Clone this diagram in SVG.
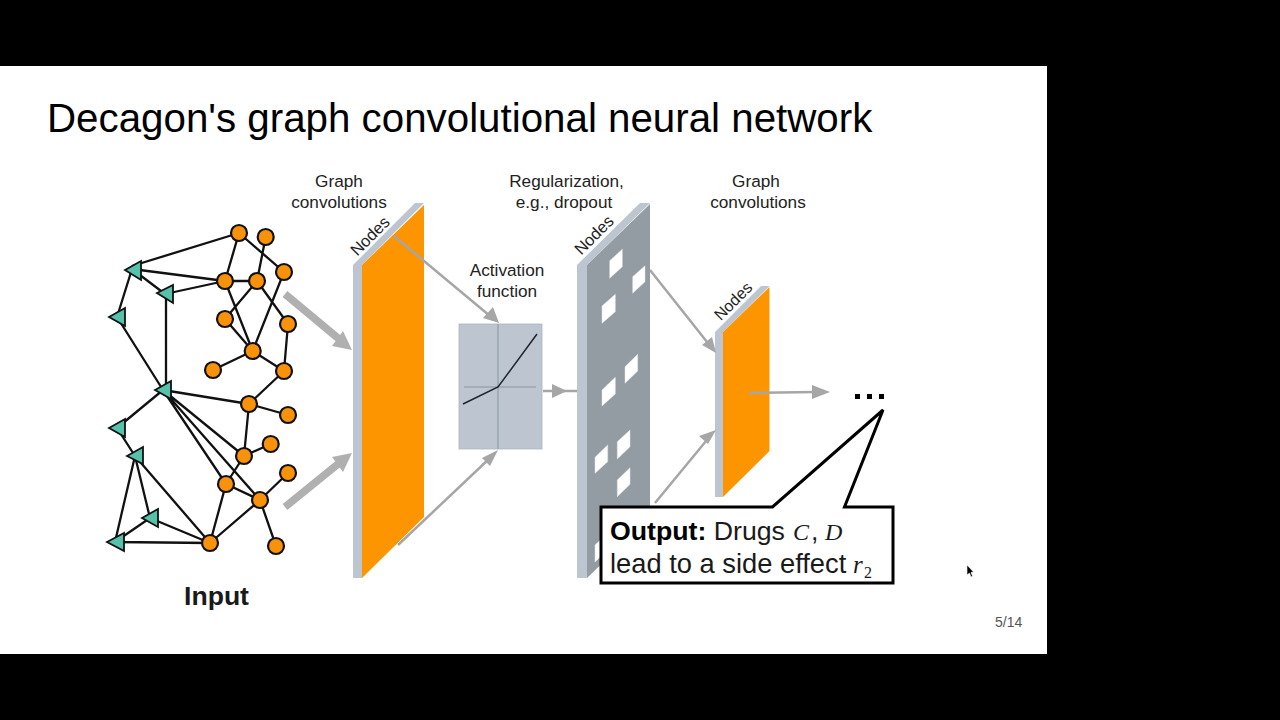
<svg xmlns="http://www.w3.org/2000/svg" width="1280" height="720" viewBox="0 0 1280 720">
<style>
text{font-family:"Liberation Sans",Arial,sans-serif;fill:#1a1a1a}
.lab{font-size:17.2px;text-anchor:middle;fill:#222}
.nodes{font-size:16.5px;text-anchor:middle;fill:#222}
.e{stroke:#111;stroke-width:2.300;fill:none}
.o{fill:#f7920a;stroke:#111;stroke-width:2.200}
.t{fill:#56c2aa;stroke:#111;stroke-width:1.800}
.a{stroke:#a6a6a6;fill:none;stroke-width:2.500}
.h{fill:#a6a6a6}
.s{fill:#bcc5d0;stroke:#adb5bd;stroke-width:.8}
.w{fill:#fff;stroke:#e4e6e8;stroke-width:.5}
.m{font-family:"Liberation Serif","DejaVu Serif",serif;font-style:italic}
</style>
<rect width="1280" height="720" fill="#000"/>
<rect x="0" y="66" width="1047" height="588" fill="#fff"/>
<text id="title" x="47" y="132" font-size="40.300" style="fill:#000">Decagon's graph convolutional neural network</text>
<g id="edges">
<path class="e" d="M239 233L132 266M239 233L225 281M239 233L284 272M265.700 237L257 281M225 281H257M225 281L132 269M225 281L165 294M132 269L165 294M132 269L117 317M117 317L163 390M166 294V390M225 281L252.700 351M257 281L225 319M257 281L288 324M225 319L252.700 351M284 272L252.700 351M288 324L284 371M252.700 351L213 370M252.700 351L284 371M284 371L249 404M163 390L249 404M249 404L288 415M249 404L244 456M244 456L270.700 444M244 456L226 484M163 390L244 456M163 390L226 484M163 390L260 500M226 484L260 500M226 484L210 543M260 500L210 543M260 500L288 473M260 500L276 546M163 390L117 428M117 428L135 456M135 456L115 542M135 456L150 518M135 456L210 543M150 518L115 542M150 518L210 543M115 542L210 543"/>
</g>
<g id="nodes-orange">
<circle class="o" cx="239" cy="233" r="8"/><circle class="o" cx="265.700" cy="237" r="8"/><circle class="o" cx="284" cy="272" r="8"/><circle class="o" cx="225" cy="281" r="8"/><circle class="o" cx="257" cy="281" r="8"/><circle class="o" cx="225" cy="319" r="8"/><circle class="o" cx="288" cy="324" r="8"/><circle class="o" cx="252.700" cy="351" r="8"/><circle class="o" cx="213" cy="370" r="8"/><circle class="o" cx="284" cy="371" r="8"/><circle class="o" cx="249" cy="404" r="8"/><circle class="o" cx="288" cy="415" r="8"/><circle class="o" cx="270.700" cy="444" r="8"/><circle class="o" cx="244" cy="456" r="8"/><circle class="o" cx="288" cy="473" r="8"/><circle class="o" cx="226" cy="484" r="8"/><circle class="o" cx="260" cy="500" r="8"/><circle class="o" cx="210" cy="543" r="8"/><circle class="o" cx="276" cy="546" r="8"/>
</g>
<g id="nodes-teal">
<polygon class="t" points="125,270 141,261 141,280"/><polygon class="t" points="157,293 173,285 173,303"/><polygon class="t" points="109,317 125,308 125,326"/><polygon class="t" points="155,390 171,381 171,399"/><polygon class="t" points="109,428 125,419 125,437"/><polygon class="t" points="127,456 143,447 143,464"/><polygon class="t" points="142,518 158,509 158,527"/><polygon class="t" points="107,542 124,533 124,551"/>
</g>
<text id="input" x="216.500" y="605" font-size="26.600" font-weight="bold" text-anchor="middle">Input</text>
<g id="plate1">
<rect x="353" y="265" width="9" height="313" fill="#bcc5d0"/>
<polygon points="353,265 415,203 424,203 362,265" fill="#bcc5d0"/>
<polygon points="362,265 424,205 424,517 362,578" fill="#fd9500"/>
<text class="nodes" transform="translate(374,240) rotate(-45)">Nodes</text>
</g>
<text class="lab" x="339" y="187">Graph</text><text class="lab" x="339" y="208">convolutions</text>
<g id="activation">
<rect x="459" y="324" width="83" height="125" class="s"/>
<path d="M498 324V449M464 387H536" stroke="#8a949e" stroke-width="1" fill="none"/>
<path d="M463 404L498 387L537 334" stroke="#1c2430" stroke-width="1.500" fill="none"/>
<text class="lab" x="507" y="276">Activation</text><text class="lab" x="507" y="297">function</text>
</g>
<g id="plate2">
<rect x="577" y="265" width="10" height="313" fill="#bcc5d0"/>
<polygon points="577,265 640,203 650,203 587,265" fill="#bcc5d0"/>
<polygon points="587,265 650,204 650,517 587,578" fill="#939ba3"/>
<polygon class="w" points="609.700,260.700 622.300,249.300 622.300,266.700 609.700,278.300"/>
<polygon class="w" points="632.700,276.700 645,265.700 645,281.700 632.700,293.300"/>
<polygon class="w" points="602,306 615.300,294.300 615.300,311.700 602,323.300"/>
<polygon class="w" points="625,366.700 637.700,354.300 637.700,371 625,383.300"/>
<polygon class="w" points="602,390 615.300,377.300 615.300,394 602,406"/>
<polygon class="w" points="595,457.300 607.700,445 607.700,461.700 595,473.300"/>
<polygon class="w" points="617.300,441.700 630,430 630,446.700 617.300,459"/>
<polygon class="w" points="617.300,480 630,467.700 630,484.300 617.300,496.700"/>
<polygon class="w" points="595,545 608,533 608,550 595,562"/>
<text class="nodes" transform="translate(598,239) rotate(-45)">Nodes</text>
</g>
<text class="lab" x="566.500" y="187">Regularization,</text><text class="lab" x="564" y="208">e.g., dropout</text>
<g id="plate3">
<rect x="715" y="332" width="8" height="165" fill="#bcc5d0"/>
<polygon points="715,332 761,286 769.500,286 723,332" fill="#bcc5d0"/>
<polygon points="723,332 769.500,287 769.500,451 723,497" fill="#fd9500"/>
<text class="nodes" transform="translate(737,305) rotate(-45)" style="font-size:16px">Nodes</text>
</g>
<text class="lab" x="756" y="187">Graph</text><text class="lab" x="758" y="208">convolutions</text>
<g id="connectors">
<path d="M285 294L339 339" stroke="#b0b0b0" stroke-width="7.500" fill="none"/>
<polygon points="352,350 332,346 343,331" fill="#b0b0b0"/>
<path d="M285 507L338 464" stroke="#b0b0b0" stroke-width="7.500" fill="none"/>
<polygon points="352,453 343,472 332,457" fill="#b0b0b0"/>
<path class="a" d="M394 236L490 316M398 545L490 458M543 391H577M650 270L711 347M655 503L711 435M749 393L816 392"/>
<polygon class="h" points="499,323 483,318 493,307"/>
<polygon class="h" points="498,450 490,466 482,458"/>
<polygon class="h" points="567,391 552,384 552,398"/>
<polygon class="h" points="716,353 702,345 712,337"/>
<polygon class="h" points="716,430 708,444 699,436"/>
<polygon class="h" points="830,392 812,385 812,399"/>
</g>
<g id="dots" fill="#000"><rect x="855" y="394" width="5" height="5"/><rect x="867" y="394" width="5" height="5"/><rect x="879" y="394" width="5" height="5"/></g>
<g id="callout">
<path d="M601 507H772.500L883 410L844.500 507H893V583H601Z" fill="#fff" stroke="#000" stroke-width="3"/>
<text x="610" y="540" font-size="26.700"><tspan font-weight="bold" style="fill:#000">Output:</tspan> Drugs <tspan class="m" x="793" font-size="24">C</tspan><tspan x="811">,</tspan><tspan class="m" x="825" font-size="24">D</tspan></text>
<text x="610" y="573" font-size="27.300">lead to a side effect <tspan class="m" x="853" font-size="25">r</tspan><tspan font-size="16" dy="5" x="864" style="font-family:'Liberation Serif',serif">2</tspan></text>
</g>
<text id="page" x="995" y="627" font-size="14" style="fill:#555">5/14</text>
<polygon id="cursor" points="967,565 967,575 969.500,573 971,577 972.500,576 971,572.500 973.500,572" fill="#000" stroke="#fff" stroke-width=".6"/>
</svg>
